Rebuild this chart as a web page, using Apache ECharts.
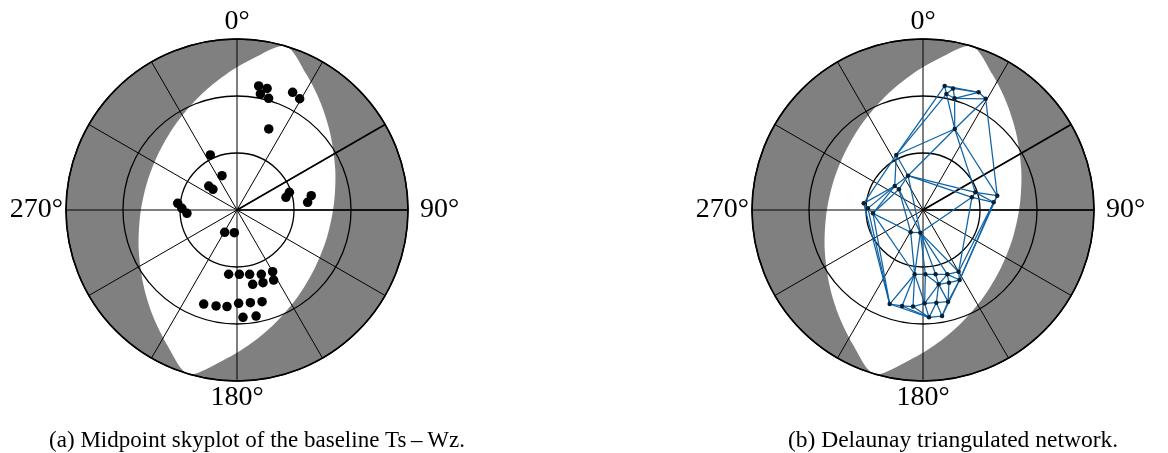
<!DOCTYPE html>
<html><head><meta charset="utf-8">
<script src="https://cdn.jsdelivr.net/npm/echarts@6/dist/echarts.min.js"></script>
<style>html,body{margin:0;padding:0;background:#fff}#main{width:1168px;height:453px}</style>
</head><body><div id="main"></div>
<script>
// Baseline midpoints: azimuth (deg, clockwise from north) and elevation (deg)
const azimuth = [9.9, 13.9, 11.4, 15.8, 25.3, 29.4, 21.4, 334.1, 336.4, 310.3, 310.7, 276.4, 271.7, 266.2,
  71.4, 75.5, 79.1, 83.8, 208.9, 186.7, 187.4, 177.9, 168.9, 159.3, 150.0, 168.1, 160.3, 152.4,
  199.5, 192.3, 185.9, 179.0, 171.8, 164.7, 176.8, 169.8];
const elevation = [23.7, 24.1, 27.7, 28.9, 21.5, 22.8, 44.2, 57.8, 70.3, 70.5, 73.3, 58.6, 61.0, 63.6,
  60.9, 63.4, 50.2, 52.6, 76.6, 78.0, 55.9, 56.1, 55.5, 53.8, 52.5, 50.0, 49.4, 48.4,
  37.5, 38.3, 38.9, 40.9, 40.7, 40.0, 33.4, 33.3];
// Boundary of the commonly visible (white) sky region
const visAz = [16.6, 27.0, 37.9, 50.6, 67.7, 86.5, 106.6, 126.7, 145.5, 162.5, 175.3, 186.2,
  196.6, 207.0, 217.9, 230.6, 247.7, 266.5, 286.6, 306.7, 325.5, 342.5, 355.3, 6.2];
const visEl = [0, 9.7, 18.4, 26.5, 34.1, 38.9, 40.5, 38.9, 34.1, 26.5, 18.4, 9.7,
  0, 9.7, 18.4, 26.5, 34.1, 38.9, 40.5, 38.9, 34.1, 26.5, 18.4, 9.7];
const azTickLabels = [0, 90, 180, 270];
const heavyAz = [60, 90];
const captions = ['(a) Midpoint skyplot of the baseline Ts\u2009\u2013\u2009Wz.', '(b) Delaunay triangulated network.'];

// Delaunay triangulation (Bowyer-Watson) of the points in the skyplot plane
function delaunayEdges(az, el) {
  const P = az.map((a, i) => { const z = 90 - el[i], t = a * Math.PI / 180; return [z * Math.sin(t), z * Math.cos(t)]; });
  const n = P.length;
  const pts = P.concat([[-2000, -2000], [2000, -2000], [0, 2000]]);
  let tris = [[n, n + 1, n + 2]];
  function inCirc(p, t) {
    const [ax, ay] = pts[t[0]], [bx, by] = pts[t[1]], [cx, cy] = pts[t[2]];
    const d = 2 * (ax * (by - cy) + bx * (cy - ay) + cx * (ay - by));
    const ux = ((ax * ax + ay * ay) * (by - cy) + (bx * bx + by * by) * (cy - ay) + (cx * cx + cy * cy) * (ay - by)) / d;
    const uy = ((ax * ax + ay * ay) * (cx - bx) + (bx * bx + by * by) * (ax - cx) + (cx * cx + cy * cy) * (bx - ax)) / d;
    const r2 = (ax - ux) ** 2 + (ay - uy) ** 2;
    return (p[0] - ux) ** 2 + (p[1] - uy) ** 2 < r2;
  }
  for (let i = 0; i < n; i++) {
    const p = pts[i], keep = [], cnt = new Map();
    for (const t of tris) {
      if (inCirc(p, t)) {
        for (const [a, b] of [[t[0], t[1]], [t[1], t[2]], [t[2], t[0]]]) {
          const k = a < b ? a + ',' + b : b + ',' + a;
          cnt.set(k, (cnt.get(k) || 0) + 1);
        }
      } else keep.push(t);
    }
    for (const [k, c] of cnt) if (c === 1) { const [a, b] = k.split(',').map(Number); keep.push([a, b, i]); }
    tris = keep;
  }
  const E = new Set();
  for (const t of tris) {
    if (t.some(v => v >= n)) continue;
    for (const [a, b] of [[t[0], t[1]], [t[1], t[2]], [t[2], t[0]]]) E.add(a < b ? a + ',' + b : b + ',' + a);
  }
  return [...E].map(k => k.split(',').map(Number));
}

const pointData = azimuth.map((a, i) => [elevation[i], a]);
const edgeData = delaunayEdges(azimuth, elevation).map(([i, j]) => [elevation[i], azimuth[i], elevation[j], azimuth[j]]);
const lensData = visAz.map((a, i) => [visEl[i], a]);
const FONT = 'Liberation Serif';
const labelStyle = { fontFamily: FONT, fontSize: 28, color: '#000' };

function skyBase(pi) {
  return [
    { type: 'custom', coordinateSystem: 'polar', polarIndex: pi, z: 1, silent: true, data: [[90, 0]],
      renderItem(params, api) {
        const c = api.coord([90, 0]), e = api.coord([0, 0]);
        return { type: 'circle', shape: { cx: c[0], cy: c[1], r: Math.hypot(e[0] - c[0], e[1] - c[1]) }, style: { fill: '#808080' } };
      } },
    { type: 'custom', coordinateSystem: 'polar', polarIndex: pi, z: 2, silent: true, data: lensData,
      renderItem(params, api) {
        if (params.dataIndex !== 0) return null;
        return { type: 'polygon', shape: { points: lensData.map(d => api.coord(d)), smooth: 0.3 }, style: { fill: '#ffffff' } };
      } },
    { type: 'custom', coordinateSystem: 'polar', polarIndex: pi, z: 4, silent: true, data: heavyAz.map(a => [0, a]),
      renderItem(params, api) {
        const a = api.value(1);
        const p1 = api.coord([90, a]), p2 = api.coord([0, a]);
        return { type: 'line', shape: { x1: p1[0], y1: p1[1], x2: p2[0], y2: p2[1] }, style: { stroke: '#000', lineWidth: 1.7 } };
      } }
  ];
}

const chart = echarts.init(document.getElementById('main'), null, { renderer: 'canvas' });
chart.setOption({
  animation: false,
  backgroundColor: '#fff',
  title: [
    { text: captions[0], left: 252, top: 424, textAlign: 'center', textStyle: { fontFamily: FONT, fontSize: 23, fontWeight: 'normal', color: '#000' } },
    { text: captions[1], left: 948, top: 424, textAlign: 'center', textStyle: { fontFamily: FONT, fontSize: 23.5, fontWeight: 'normal', color: '#000' } }
  ],
  polar: [
    { center: [237, 210], radius: 171 },
    { center: [923, 210], radius: 171 }
  ],
  angleAxis: [0, 1].map(i => ({
    polarIndex: i, type: 'value', min: 0, max: 360, interval: 30, startAngle: 90, clockwise: true, z: 3,
    axisLine: { show: true, lineStyle: { color: '#000', width: 1.6 } },
    axisTick: { show: false },
    splitLine: { show: true, lineStyle: { color: '#000', width: 1 } },
    axisLabel: { show: true, margin: 3,
      formatter: v => azTickLabels.includes(v) ? (v === 90 ? '{r|' + v + '°}' : '{n|' + v + '°}') : '',
      rich: { n: labelStyle, r: Object.assign({ padding: [0, 0, 0, 9] }, labelStyle) } }
  })),
  radiusAxis: [0, 1].map(i => ({
    polarIndex: i, type: 'value', min: 0, max: 90, interval: 30, inverse: true, z: 3,
    axisLine: { show: false }, axisTick: { show: false }, axisLabel: { show: false },
    splitLine: { show: true, lineStyle: { color: '#000', width: 1.3 } }
  })),
  series: [
    ...skyBase(0),
    ...skyBase(1),
    { type: 'scatter', coordinateSystem: 'polar', polarIndex: 0, z: 6, data: pointData, symbol: 'circle', symbolSize: 9.5,
      itemStyle: { color: '#000', opacity: 1 }, silent: true },
    { type: 'custom', coordinateSystem: 'polar', polarIndex: 1, z: 5, silent: true, data: edgeData,
      renderItem(params, api) {
        const p1 = api.coord([api.value(0), api.value(1)]), p2 = api.coord([api.value(2), api.value(3)]);
        return { type: 'line', shape: { x1: p1[0], y1: p1[1], x2: p2[0], y2: p2[1] }, style: { stroke: '#0e63a6', lineWidth: 1.25 } };
      } },
    { type: 'scatter', coordinateSystem: 'polar', polarIndex: 1, z: 6, data: pointData, symbol: 'circle', symbolSize: 4.5,
      itemStyle: { color: '#0b1f33', opacity: 1 }, silent: true }
  ]
});
</script>
</body></html>
